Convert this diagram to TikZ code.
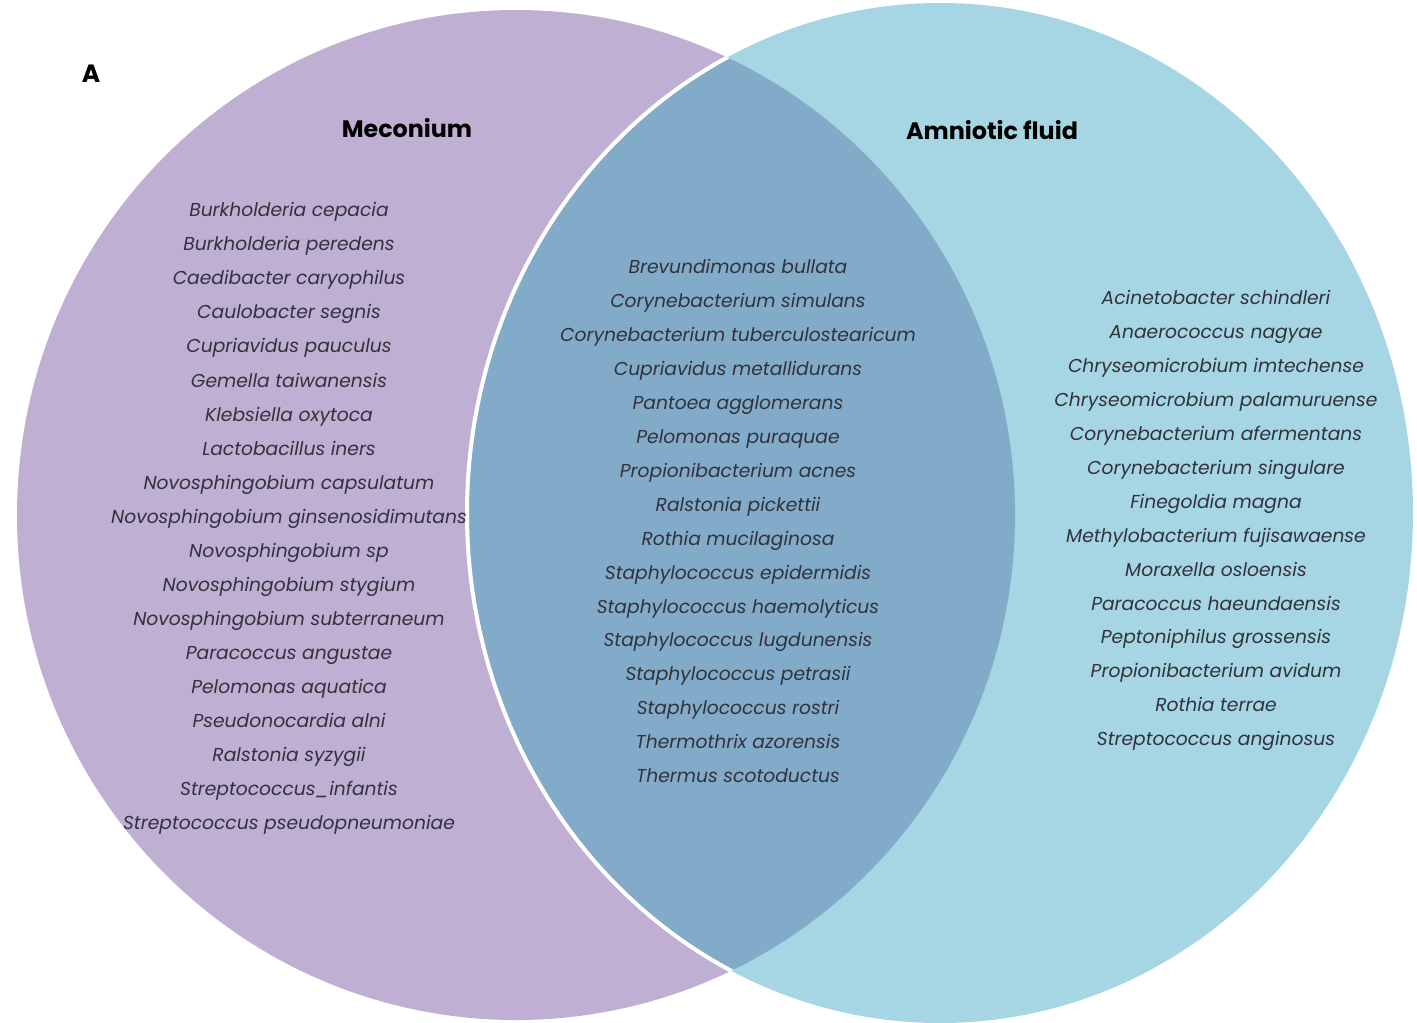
\documentclass[tikz,border=0pt]{standalone}
\usepackage{fontspec}
\setmainfont{Poppins}
\definecolor{purp}{RGB}{191,175,210}
\definecolor{lblue}{RGB}{166,213,227}
\definecolor{ovl}{RGB}{130,171,201}
\definecolor{spc}{RGB}{50,50,60}
\begin{document}
\begin{tikzpicture}[x=1pt,y=-1pt,
  species/.style={font=\fontsize{18.7}{20}\selectfont\itshape, text=spc, inner sep=0pt, anchor=mid},
  heading/.style={font=\fontsize{23.8}{26}\selectfont\bfseries, text=black, inner sep=0pt, anchor=mid}]
\useasboundingbox (0,0) rectangle (1417,1023);
\def\leftell{(516,515) ellipse [x radius=499pt, y radius=505pt]}
\def\rightell{(940,513) ellipse [x radius=473pt, y radius=510pt]}
\fill[purp] \leftell;
\fill[lblue] \rightell;
\begin{scope}
  \clip \leftell;
  \fill[ovl] \rightell;
  \draw[white, line width=4pt] \rightell;
\end{scope}
\node[heading, font=\fontsize{25}{26}\selectfont\bfseries] (lblA) at (91,80) {A};
\node[heading] (mec) at (407,135) {Meconium};
\node[heading] (amn) at (992,137) {Amniotic fluid};
\foreach \t [count=\i] in {Burkholderia cepacia, Burkholderia peredens, Caedibacter caryophilus, Caulobacter segnis, Cupriavidus pauculus, Gemella taiwanensis, Klebsiella oxytoca, Lactobacillus iners, Novosphingobium capsulatum, Novosphingobium ginsenosidimutans, Novosphingobium sp, Novosphingobium stygium, Novosphingobium subterraneum, Paracoccus angustae, Pelomonas aquatica, Pseudonocardia alni, Ralstonia syzygii, Streptococcus\_infantis, Streptococcus pseudopneumoniae}
  \node[species] (m\i) at (289,{214+(\i-1)*34.06}) {\t};
\foreach \t [count=\i] in {Brevundimonas bullata, Corynebacterium simulans, Corynebacterium tuberculostearicum, Cupriavidus metallidurans, Pantoea agglomerans, Pelomonas puraquae, Propionibacterium acnes, Ralstonia pickettii, Rothia mucilaginosa, Staphylococcus epidermidis, Staphylococcus haemolyticus, Staphylococcus lugdunensis, Staphylococcus petrasii, Staphylococcus rostri, Thermothrix azorensis, Thermus scotoductus}
  \node[species] (b\i) at (738,{271+(\i-1)*33.93}) {\t};
\foreach \t [count=\i] in {Acinetobacter schindleri, Anaerococcus nagyae, Chryseomicrobium imtechense, Chryseomicrobium palamuruense, Corynebacterium afermentans, Corynebacterium singulare, Finegoldia magna, Methylobacterium fujisawaense, Moraxella osloensis, Paracoccus haeundaensis, Peptoniphilus grossensis, Propionibacterium avidum, Rothia terrae, Streptococcus anginosus}
  \node[species] (a\i) at (1216,{302+(\i-1)*33.92}) {\t};
\end{tikzpicture}
\end{document}
